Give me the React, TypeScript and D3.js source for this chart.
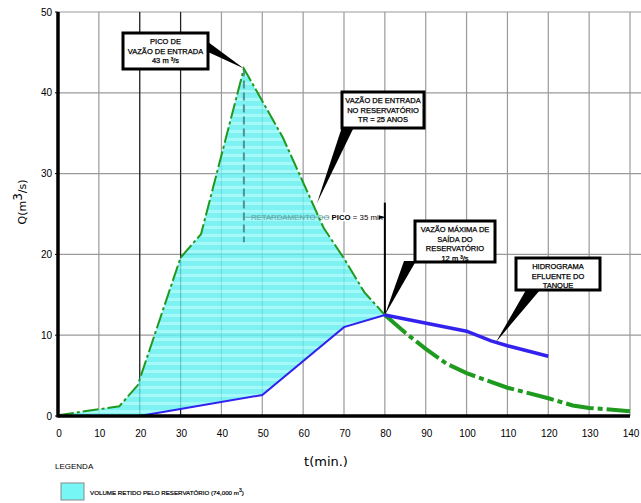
import React from "react";
import * as d3 from "d3";

// hidrograma de entrada (t em min, Q em m3/s)
const inflowT = [0, 15, 19.5, 30, 35, 45.5, 55, 65, 70, 75, 80];
const inflowQ = [0.1, 1.2, 3.8, 19.6, 22.5, 43, 34.5, 23.3, 19.5, 15.3, 12.5];
// continuação após o pico de saída
const tailT = [80, 85, 90, 95, 100, 110, 120, 126, 130, 140];
const tailQ = [12.5, 10.3, 8.3, 6.5, 5.3, 3.5, 2.2, 1.3, 1.0, 0.6];
// hidrograma efluente
const outT = [20, 50, 70, 80];
const outQ = [0, 2.6, 11, 12.5];
const effT = [80, 100, 106, 110, 120];
const effQ = [12.5, 10.5, 9.3, 8.7, 7.4];

const xTicks = d3.range(0, 141, 10);
const yTicks = [0, 10, 20, 30, 40, 50];

const W = 641;
const H = 503;
const x = d3.scaleLinear().domain([0, 140]).range([58, 630]);
const y = d3.scaleLinear().domain([0, 50]).range([416, 12]);

const pts = (ts: number[], qs: number[]): [number, number][] => ts.map((t, i) => [t, qs[i]]);
const line = d3.line<[number, number]>().x((d) => x(d[0])).y((d) => y(d[1]));

const font = "'Liberation Sans', Arial, sans-serif";

function Callout({ bx, by, bw, bh, lines, base, tip }: any) {
  return (
    <g>
      <polygon points={`${base[0][0]},${base[0][1]} ${base[1][0]},${base[1][1]} ${tip[0]},${tip[1]}`} fill="#000" />
      <rect x={bx} y={by} width={bw} height={bh} fill="#fff" stroke="#000" strokeWidth={3} />
      {lines.map((l: string, i: number) => (
        <text key={i} x={bx + bw / 2} y={by + 11 + i * 9.5} textAnchor="middle" fontSize={7.5}
          fontFamily={font} stroke="#000" strokeWidth={0.25}>
          {l}
        </text>
      ))}
    </g>
  );
}

export default function App() {
  const fillPts = [...pts(inflowT, inflowQ), ...pts(outT, outQ).reverse(), [0, 0] as [number, number]];
  return (
    <svg width={W} height={H} style={{ position: "absolute", left: 0, top: 0, background: "#fff" }}>
      <defs>
        <pattern id="stripes" width={8} height={8} patternUnits="userSpaceOnUse">
          <rect width={8} height={8} fill="#5eefef" />
          <rect y={2} width={8} height={3} fill="#90f8f8" />
        </pattern>
      </defs>

      {/* grade */}
      {yTicks.slice(1).map((v) => (
        <line key={"h" + v} x1={x(0)} x2={W} y1={y(v)} y2={y(v)} stroke="#9a9a9a" strokeWidth={1.2} />
      ))}
      {xTicks.slice(1).map((v) => (
        <line key={"v" + v} x1={x(v)} x2={x(v)} y1={y(50)} y2={y(0)} stroke="#9a9a9a" strokeWidth={1.2} />
      ))}
      <line x1={x(20)} x2={x(20)} y1={y(50)} y2={y(0)} stroke="#222" strokeWidth={1.2} />
      <line x1={x(30)} x2={x(30)} y1={y(50)} y2={y(0)} stroke="#222" strokeWidth={1.2} />

      {/* volume retido */}
      <path d={line(fillPts) + "Z"} fill="url(#stripes)" fillOpacity={0.8} />

      {/* retardamento do pico */}
      <line x1={x(45.5)} x2={x(45.5)} y1={y(43)} y2={y(21.5)} stroke="#4f9494" strokeWidth={2} strokeDasharray="8 4" />
      <line x1={x(45.5)} x2={x(66)} y1={y(24.6)} y2={y(24.6)} stroke="#6aaaaa" strokeWidth={0.8} />
      <line x1={x(66)} x2={x(80)} y1={y(24.6)} y2={y(24.6)} stroke="#000" strokeWidth={0.8} />
      <rect x={x(66) + 1} y={y(24.6) - 5} width={x(80) - x(66) - 6} height={9} fill="#fff" />
      <text x={x(45.5) + 7} y={y(24.6) + 3} fontSize={7.8} fontFamily={font} fill="#000">
        <tspan fill="#5fa3a3">RETARDAMENTO DO </tspan>
        <tspan fontWeight="bold">PICO</tspan> = 35 min
      </text>
      <path d={`M${x(80) - 6},${y(24.6) - 2}L${x(80)},${y(24.6)}L${x(80) - 6},${y(24.6) + 2}Z`} fill="#000" />

      <line x1={x(80)} x2={x(80)} y1={y(26.4)} y2={y(12.5)} stroke="#000" strokeWidth={2} />

      {/* hidrogramas */}
      <path d={line(pts(inflowT, inflowQ)) || ""} fill="none" stroke="#1e9a1e" strokeWidth={2} strokeDasharray="16 3 3 3" />
      <path d={line(pts(tailT, tailQ)) || ""} fill="none" stroke="#1e9a1e" strokeWidth={4} strokeDasharray="28 4 5 4" />
      <path d={line(pts(outT, outQ)) || ""} fill="none" stroke="#3322ee" strokeWidth={2} />
      <path d={line(pts(effT, effQ)) || ""} fill="none" stroke="#3322ee" strokeWidth={3.5} />

      {/* eixos */}
      <line x1={x(0)} x2={x(140)} y1={y(0)} y2={y(0)} stroke="#000" strokeWidth={3.5} />
      <line x1={x(0)} x2={x(0)} y1={y(50)} y2={y(0) + 1.5} stroke="#000" strokeWidth={3.5} />
      {yTicks.map((v) => (
        <g key={"yl" + v}>
          <line x1={x(0) - 3} x2={x(0)} y1={y(v)} y2={y(v)} stroke="#000" strokeWidth={1} />
          <text x={x(0) - 6} y={y(v) + 3.5} textAnchor="end" fontSize={10} fontFamily={font}>{v}</text>
        </g>
      ))}
      {xTicks.map((v) => (
        <text key={"xl" + v} x={x(v) + 1} y={437} textAnchor="middle" fontSize={10} fontFamily={font}>{v}</text>
      ))}
      <text x={326} y={466} textAnchor="middle" fontSize={13} fontFamily="'DejaVu Sans', sans-serif">t(min.)</text>
      <text transform="translate(26,202) rotate(-90)" textAnchor="middle" fontSize={11} fontFamily="'DejaVu Sans', sans-serif">
        Q(m<tspan dy={-4} fontSize={12}>3</tspan><tspan dy={4}>/s)</tspan>
      </text>

      {/* chamadas */}
      <Callout bx={123} by={33} bw={85} bh={36} lines={["PICO DE", "VAZÃO DE ENTRADA", "43 m ³/s"]}
        base={[[208, 42], [208, 52]]} tip={[x(45.5), y(43)]} />
      <Callout bx={342} by={92} bw={82} bh={36} lines={["VAZÃO DE ENTRADA", "NO RESERVATÓRIO", "TR = 25 ANOS"]}
        base={[[342, 127], [354, 127]]} tip={[317, 203]} />
      <Callout bx={415} by={221} bw={80} bh={41} lines={["VAZÃO MÁXIMA DE", "SAÍDA DO", "RESERVATÓRIO", "12 m ³/s"]}
        base={[[404, 261], [416, 261]]} tip={[x(80), y(12.5)]} />
      <Callout bx={516} by={258} bw={84} bh={32} lines={["HIDROGRAMA", "EFLUENTE DO", "TANQUE"]}
        base={[[526, 290], [540, 290]]} tip={[496, 342]} />

      {/* legenda */}
      <text x={55} y={469} fontSize={8} fontFamily={font}>LEGENDA</text>
      <rect x={61} y={483} width={23} height={17} fill="#77f6f6" stroke="#888" strokeWidth={1} />
      <text x={90} y={495} fontSize={6.2} fontFamily={font} stroke="#000" strokeWidth={0.2}>
        VOLUME RETIDO PELO RESERVATÓRIO (74,000 m<tspan dy={-3} fontSize={5}>3</tspan><tspan dy={3}>)</tspan>
      </text>
    </svg>
  );
}
